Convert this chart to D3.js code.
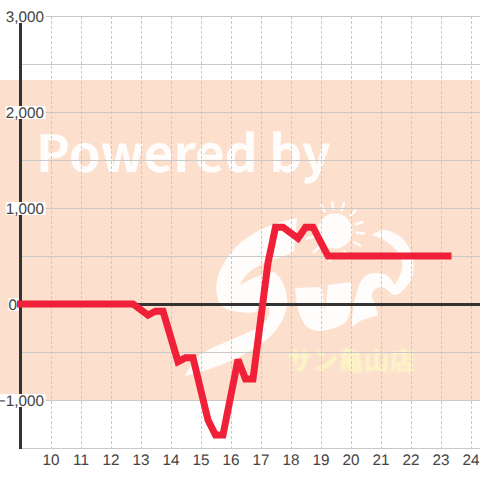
<!DOCTYPE html>
<html><head><meta charset="utf-8">
<script src="https://cdnjs.cloudflare.com/ajax/libs/d3/7.8.5/d3.min.js"></script>
<style>html,body{margin:0;padding:0;background:#fff}svg{display:block}text{text-rendering:geometricPrecision}</style>
</head><body><svg id="c" width="480" height="480"></svg>
<script>
const hours = [9,9.5,10,10.5,11,11.5,12,12.5,12.75,13.25,13.5,13.75,14.25,14.5,14.75,15.25,15.5,15.75,16.25,16.5,16.75,17.25,17.5,17.75,18.25,18.5,18.75,19.25,20,21,22,23,23.25];
const profit = [0,0,0,0,0,0,0,0,0,-115,-75,-75,-600,-560,-560,-1210,-1365,-1365,-580,-780,-780,430,800,800,685,800,800,500,500,500,500,500,500];
const xTicks = [10,11,12,13,14,15,16,17,18,19,20,21,22,23,24];
const yMajor = [3000,2000,1000,0,-1000];
const yMinor = [2500,1500,500,-500,-1500];
const brandLine = "Powered by";
const storeName = "サン亀山店";

const svg = d3.select("#c");
const x = d3.scaleLinear().domain([9,24.33]).range([20.5,480.4]);
const y = d3.scaleLinear().domain([3000,-1500]).range([16,448]);

const defs = svg.append("defs");
defs.append("filter").attr("id","soft").append("feGaussianBlur").attr("stdDeviation",0.5);
defs.append("filter").attr("id","softer").append("feGaussianBlur").attr("stdDeviation",0.8);

// background picture
const paper = "#fffdfb";
const bg = svg.append("g");
bg.append("rect").attr("x",0).attr("y",80).attr("width",480).attr("height",320).attr("fill","#fce0cd");
bg.append("text").attr("x",36).attr("y",172).attr("font-family","'Noto Sans CJK JP'").attr("font-weight",700)
  .attr("font-size",51).attr("fill",paper).attr("filter","url(#soft)").text(brandLine);
const logo = bg.append("g").attr("fill",paper).attr("filter","url(#soft)");
logo.append("path").attr("d","M297,218 C275,222 250,232 235,248 C222,262 214,280 217,295 C218,306 225,311 240,312 C252,314 262,312 268,306 C272,312 268,322 258,328 C240,337 215,345 200,355 C192,362 188,370 185,376 C205,372 232,362 255,348 C272,338 285,322 287,305 C288,290 282,278 274,272 C262,274 250,279 240,285 C245,272 258,265 272,260 C280,257 288,255 294,252 Z");
logo.append("path").attr("d","M295,288 L322,287 L325,313 L328,285 L352,282 L350,312 C348,320 345,323 342,325 C335,328 325,331 318,331 C312,330 308,328 305,325 C301,318 298,312 297,305 Z");
logo.append("path").attr("d","M352,327 C352,315 353,305 356,295 C358,287 360,282 363,278 C367,274 371,273 375,273 C380,273 385,274 388,276 C391,279 393,282 394,285 C397,282 399,278 400,275 C402,270 403,266 402,262 C401,256 398,251 393,247 C389,243 385,240 380,238 C377,237 374,236 372,235 C376,232 380,230 385,230 C391,231 397,234 402,238 C407,243 411,250 413,258 C414,265 414,272 412,278 C409,284 405,289 400,293 C397,295 395,295 393,295 C390,293 388,290 385,288 C382,287 379,287 377,288 C374,290 372,292 372,295 C372,298 373,301 375,303 C376,307 377,311 378,315 L360,321 Z");
logo.append("circle").attr("cx",335).attr("cy",231).attr("r",17.5);
[[-118,21],[-95,21],[-72,21],[-45,21],[-18,21],[5,21],[30,21],[65,21],[100,22],[135,22],[165,21]].forEach(([a,r])=>{
  const t=a*Math.PI/180;
  logo.append("line").attr("x1",335+r*Math.cos(t)).attr("y1",231+r*Math.sin(t)).attr("x2",335+(r+9)*Math.cos(t)).attr("y2",231+(r+9)*Math.sin(t))
    .attr("stroke",paper).attr("stroke-width",2.5);
});
bg.append("text").attr("x",287).attr("y",370).attr("font-family","'Noto Sans CJK JP'").attr("font-weight",700)
  .attr("font-size",25.6).attr("fill","#fdf7c6").attr("filter","url(#softer)").text(storeName);

// grid
const grid = svg.append("g").attr("stroke","#c9c9c9").attr("stroke-width",1);
grid.selectAll(".h").data(yMajor.concat(yMinor)).join("line")
  .attr("x1",22).attr("x2",480).attr("y1",d=>y(d)+0.5).attr("y2",d=>y(d)+0.5);
grid.selectAll(".v").data(xTicks).join("line").attr("stroke-dasharray","3,2")
  .attr("x1",d=>Math.round(x(d))+0.5).attr("x2",d=>Math.round(x(d))+0.5).attr("y1",16).attr("y2",448);

// axes
const dark="#333";
svg.append("line").attr("x1",20.5).attr("x2",20.5).attr("y1",16).attr("y2",449).attr("stroke",dark).attr("stroke-width",3);
svg.append("line").attr("x1",22).attr("x2",480).attr("y1",y(0)+0.5).attr("y2",y(0)+0.5).attr("stroke",dark).attr("stroke-width",3);

const yAxis = svg.append("g").attr("transform","translate(44,0)")
  .call(d3.axisLeft(y).tickValues(yMajor).tickSize(0).tickPadding(0).tickFormat(d3.format(",")));
yAxis.select(".domain").remove();
yAxis.selectAll("text").attr("font-family","'Liberation Sans'").attr("font-size",15.3).attr("fill","#444").attr("dy","0.36em")
  .attr("x",d=>d===0?-27:0);
yAxis.selectAll(".tick").each(function(){
  const t=d3.select(this), b=t.select("text").node().getBBox();
  t.insert("rect","text").attr("x",b.x).attr("y",-6.5).attr("width",b.width+1.5).attr("height",13).attr("fill","#fff");
});
const xAxis = svg.append("g").attr("transform","translate(0,449)")
  .call(d3.axisBottom(x).tickValues(xTicks).tickSize(0).tickPadding(5).tickFormat(d3.format("d")));
xAxis.select(".domain").remove();
xAxis.selectAll("text").attr("font-family","'Liberation Sans'").attr("font-size",15.3).attr("fill","#444");

// series
const line = d3.line().x((d,i)=>x(hours[i])).y(d=>y(d));
svg.append("path").attr("d",line(profit)).attr("fill","none").attr("stroke","#ef2037").attr("stroke-width",7)
  .attr("stroke-linecap","square").attr("stroke-linejoin","miter").attr("stroke-miterlimit",1.6);
</script></body></html>
